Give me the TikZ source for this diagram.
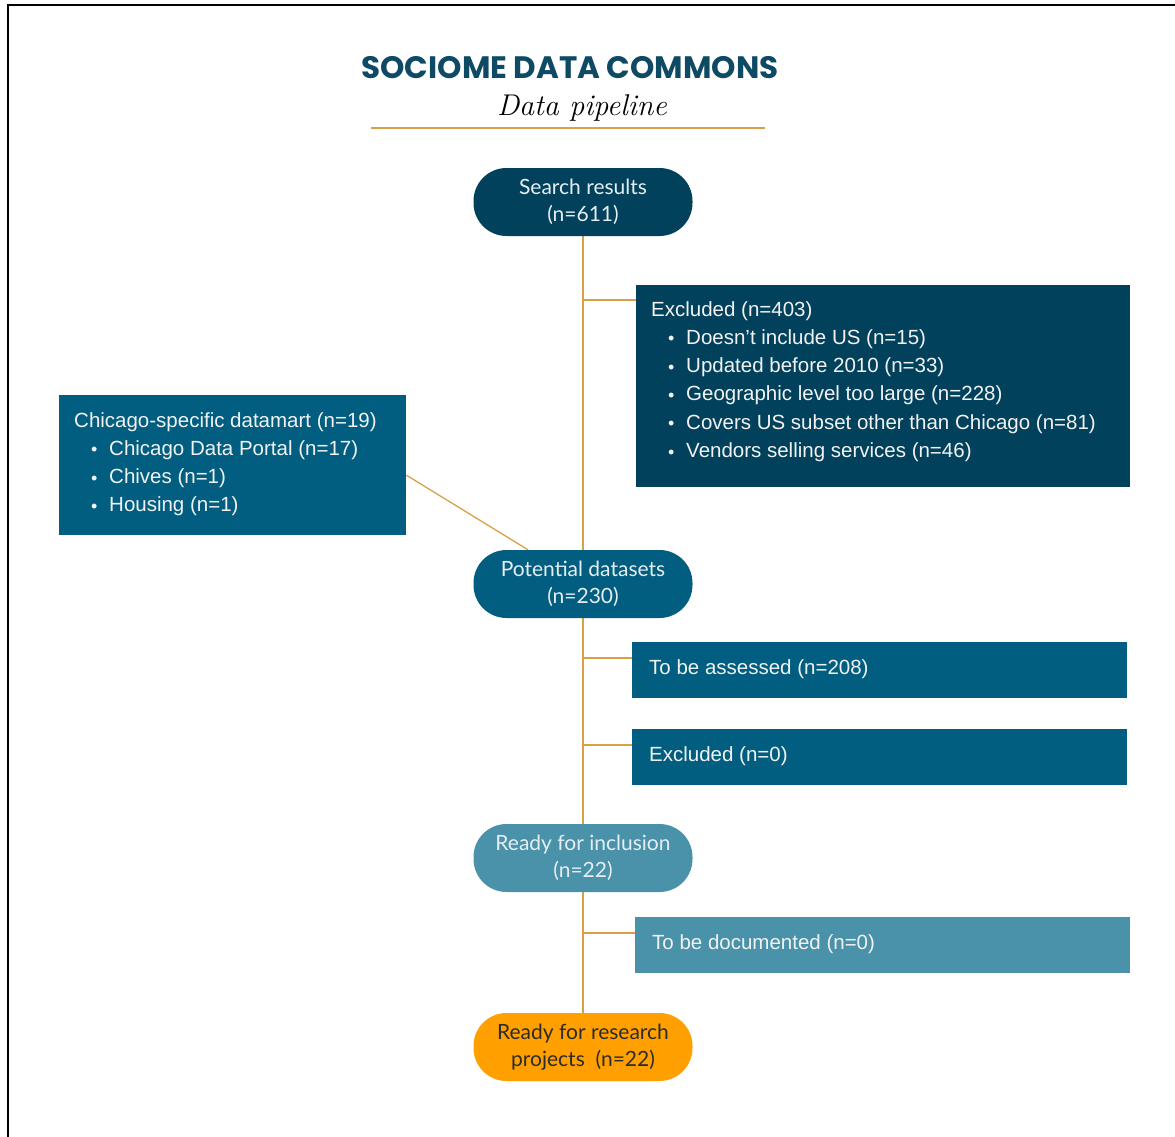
\documentclass[tikz,border=0pt]{standalone}
\usepackage{fontspec}
\setmainfont{Liberation Sans}
\newfontfamily\pillfont{Lato}
\newfontfamily\titlefont{Poppins}
\newfontfamily\subfont{Latin Modern Roman}
\usetikzlibrary{calc,backgrounds}

\definecolor{navy}{HTML}{02415C}
\definecolor{midblue}{HTML}{015E80}
\definecolor{lightblue}{HTML}{4A92AA}
\definecolor{amber}{HTML}{FFA000}
\definecolor{linkc}{HTML}{DAA046}
\definecolor{titleblue}{HTML}{0E4A63}
\definecolor{boxtext}{HTML}{F2F2F2}
\definecolor{pilltext}{HTML}{E6EEF2}
\definecolor{darktext}{HTML}{2B2B2B}

% bullet line inside a list box
\newcommand\bline[1]{\\\hspace*{17pt}\makebox[18pt][l]{\raisebox{-0.5pt}{\fontsize{18}{18}\selectfont\textbullet}}#1}

\tikzset{
  pill/.style={rectangle, rounded corners=33pt, minimum width=219pt, minimum height=68pt,
    inner sep=0pt, align=center, text=pilltext, font=\pillfont\fontsize{21}{27}\selectfont},
  panel/.style={rectangle, inner sep=0pt, anchor=north west},
  paneltext/.style={anchor=north west, align=left, inner sep=0pt, text=boxtext,
    font=\fontsize{20.5}{28.3}\selectfont},
  rowtext/.style={anchor=west, inner sep=0pt, text=boxtext, font=\fontsize{20.5}{24}\selectfont},
  link/.style={draw=linkc, line width=1.3pt},
}

\begin{document}
\begin{tikzpicture}[x=1pt, y=-1pt]
\useasboundingbox (0,0) rectangle (1175,1137);

% frame
\draw[line width=2pt] (8,1137) -- (8,5) -- (1175,5);

% heading
\node[inner sep=0pt, text=titleblue, font=\titlefont\bfseries\fontsize{31}{36}\selectfont]
  (ttl) at (570,68) {SOCIOME DATA COMMONS};
\node[inner sep=0pt, font=\subfont\itshape\fontsize{30}{32}\selectfont]
  (sub) at (582,108) {Data pipeline};
\draw[link] (371,128) -- (765,128);

% pipeline stages
\node[pill, fill=navy] (srch) at (583,202) {Search results\\(n=611)};
\node[pill, fill=midblue] (pot) at (583,584) {Potential datasets\\(n=230)};
\node[pill, fill=lightblue] (incl) at (583,858) {Ready for inclusion\\(n=22)};
\node[pill, fill=amber, text=darktext] (res) at (583,1047) {Ready for research\\projects\ \ (n=22)};

% side panels
\node[panel, fill=navy, minimum width=494pt, minimum height=202pt] (exc) at (636,285) {};
\node[paneltext] (exct) at ($(exc.north west)+(15,16)$) {Excluded (n=403)%
  \bline{Doesn’t include US (n=15)}%
  \bline{Updated before 2010 (n=33)}%
  \bline{Geographic level too large (n=228)}%
  \bline{Covers US subset other than Chicago (n=81)}%
  \bline{Vendors selling services (n=46)}};

\node[panel, fill=midblue, minimum width=347pt, minimum height=140pt] (chi) at (59,395) {};
\node[paneltext] (chit) at ($(chi.north west)+(15,17)$) {Chicago-specific datamart (n=19)%
  \bline{Chicago Data Portal (n=17)}%
  \bline{Chives (n=1)}%
  \bline{Housing (n=1)}};

\node[panel, fill=midblue, minimum width=495pt, minimum height=56pt] (asm) at (632,642) {};
\node[rowtext] (asmt) at ($(asm.west)+(17,-1)$) {To be assessed (n=208)};

\node[panel, fill=midblue, minimum width=495pt, minimum height=56pt] (zero) at (632,729) {};
\node[rowtext] (zerot) at ($(zero.west)+(17,-1)$) {Excluded (n=0)};

\node[panel, fill=lightblue, minimum width=495pt, minimum height=56pt] (doc) at (635,917) {};
\node[rowtext] (doct) at ($(doc.west)+(17,-1)$) {To be documented (n=0)};

% connectors
\begin{pgfonlayer}{background}
  \draw[link] (srch.center) -- (res.south);
  \coordinate (b1) at ($(exc.north west)+(0,15)$);
  \coordinate (b2) at ($(asm.north west)+(0,16)$);
  \coordinate (b3) at ($(zero.north west)+(0,16)$);
  \coordinate (b4) at ($(doc.north west)+(0,16)$);
  \draw[link] (b1 -| srch.center) -- (b1);
  \draw[link] (b2 -| srch.center) -- (b2);
  \draw[link] (b3 -| srch.center) -- (b3);
  \draw[link] (b4 -| srch.center) -- (b4);
  \draw[link] ($(chi.east)+(0,10)$) -- ($(pot.north)+(-55,0)$);
\end{pgfonlayer}
\end{tikzpicture}
\end{document}
